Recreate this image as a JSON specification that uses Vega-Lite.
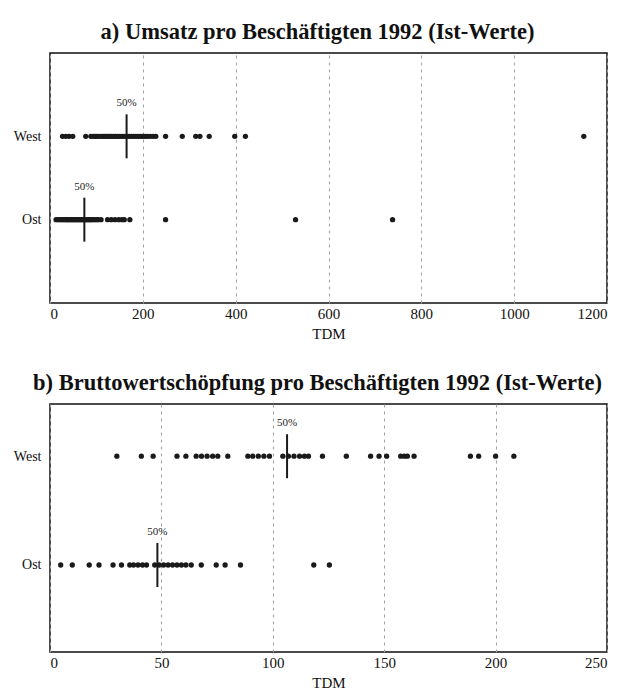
{
  "$schema": "https://vega.github.io/schema/vega-lite/v6.json",
  "background": "white",
  "padding": {"left": 5, "top": 19, "right": 20, "bottom": 5},
  "config": {
    "font": "Liberation Serif",
    "view": {"stroke": "#111", "strokeWidth": 1.5},
    "axis": {"labelFont": "Liberation Serif", "titleFont": "Liberation Serif", "labelColor": "#111", "titleColor": "#111", "ticks": false, "domain": false},
    "title": {"font": "Liberation Serif", "fontSize": 22.5, "fontWeight": "bold", "color": "#111", "anchor": "middle"}
  },
  "datasets": {
    "a": [
      {"group": "West", "value": 27}, {"group": "West", "value": 34}, {"group": "West", "value": 41}, {"group": "West", "value": 49},
      {"group": "West", "value": 77}, {"group": "West", "value": 88}, {"group": "West", "value": 93}, {"group": "West", "value": 97},
      {"group": "West", "value": 101}, {"group": "West", "value": 105}, {"group": "West", "value": 110}, {"group": "West", "value": 114},
      {"group": "West", "value": 118}, {"group": "West", "value": 121}, {"group": "West", "value": 125}, {"group": "West", "value": 129},
      {"group": "West", "value": 133}, {"group": "West", "value": 137}, {"group": "West", "value": 141}, {"group": "West", "value": 145},
      {"group": "West", "value": 150}, {"group": "West", "value": 155}, {"group": "West", "value": 160}, {"group": "West", "value": 165},
      {"group": "West", "value": 170}, {"group": "West", "value": 175}, {"group": "West", "value": 180}, {"group": "West", "value": 185},
      {"group": "West", "value": 190}, {"group": "West", "value": 195}, {"group": "West", "value": 200}, {"group": "West", "value": 205},
      {"group": "West", "value": 210}, {"group": "West", "value": 216}, {"group": "West", "value": 222}, {"group": "West", "value": 228},
      {"group": "West", "value": 249}, {"group": "West", "value": 285}, {"group": "West", "value": 314}, {"group": "West", "value": 323},
      {"group": "West", "value": 343}, {"group": "West", "value": 398}, {"group": "West", "value": 421}, {"group": "West", "value": 1150},
      {"group": "Ost", "value": 13}, {"group": "Ost", "value": 17}, {"group": "Ost", "value": 21}, {"group": "Ost", "value": 25},
      {"group": "Ost", "value": 28}, {"group": "Ost", "value": 32}, {"group": "Ost", "value": 35}, {"group": "Ost", "value": 38},
      {"group": "Ost", "value": 41}, {"group": "Ost", "value": 44}, {"group": "Ost", "value": 47}, {"group": "Ost", "value": 50},
      {"group": "Ost", "value": 53}, {"group": "Ost", "value": 56}, {"group": "Ost", "value": 59}, {"group": "Ost", "value": 62},
      {"group": "Ost", "value": 65}, {"group": "Ost", "value": 68}, {"group": "Ost", "value": 71}, {"group": "Ost", "value": 74},
      {"group": "Ost", "value": 77}, {"group": "Ost", "value": 80}, {"group": "Ost", "value": 83}, {"group": "Ost", "value": 86},
      {"group": "Ost", "value": 89}, {"group": "Ost", "value": 92}, {"group": "Ost", "value": 96}, {"group": "Ost", "value": 100},
      {"group": "Ost", "value": 104}, {"group": "Ost", "value": 110}, {"group": "Ost", "value": 124}, {"group": "Ost", "value": 132},
      {"group": "Ost", "value": 140}, {"group": "Ost", "value": 148}, {"group": "Ost", "value": 155}, {"group": "Ost", "value": 160},
      {"group": "Ost", "value": 172}, {"group": "Ost", "value": 249}, {"group": "Ost", "value": 529}, {"group": "Ost", "value": 738}
    ],
    "medA": [
      {"group": "West", "median": 165, "label": "50%"},
      {"group": "Ost", "median": 74, "label": "50%"}
    ],
    "b": [
      {"group": "West", "value": 30}, {"group": "West", "value": 41}, {"group": "West", "value": 46.3}, {"group": "West", "value": 57},
      {"group": "West", "value": 61}, {"group": "West", "value": 65.6}, {"group": "West", "value": 68}, {"group": "West", "value": 70.5},
      {"group": "West", "value": 73}, {"group": "West", "value": 75.3}, {"group": "West", "value": 79.8}, {"group": "West", "value": 88.8},
      {"group": "West", "value": 91}, {"group": "West", "value": 93.5}, {"group": "West", "value": 96}, {"group": "West", "value": 98.5},
      {"group": "West", "value": 104.5}, {"group": "West", "value": 107}, {"group": "West", "value": 109.5}, {"group": "West", "value": 112},
      {"group": "West", "value": 114.2}, {"group": "West", "value": 116}, {"group": "West", "value": 122.3}, {"group": "West", "value": 133},
      {"group": "West", "value": 143.9}, {"group": "West", "value": 147.7}, {"group": "West", "value": 151.1}, {"group": "West", "value": 157.4},
      {"group": "West", "value": 159}, {"group": "West", "value": 160.4}, {"group": "West", "value": 163.4}, {"group": "West", "value": 188.7},
      {"group": "West", "value": 192.4}, {"group": "West", "value": 200}, {"group": "West", "value": 208.2},
      {"group": "Ost", "value": 4.8}, {"group": "Ost", "value": 10}, {"group": "Ost", "value": 17.6}, {"group": "Ost", "value": 22},
      {"group": "Ost", "value": 28.3}, {"group": "Ost", "value": 32.1}, {"group": "Ost", "value": 35.8}, {"group": "Ost", "value": 37.5},
      {"group": "Ost", "value": 39.5}, {"group": "Ost", "value": 41.5}, {"group": "Ost", "value": 43.3}, {"group": "Ost", "value": 47},
      {"group": "Ost", "value": 49}, {"group": "Ost", "value": 51}, {"group": "Ost", "value": 53}, {"group": "Ost", "value": 55},
      {"group": "Ost", "value": 57}, {"group": "Ost", "value": 59}, {"group": "Ost", "value": 61}, {"group": "Ost", "value": 63.4},
      {"group": "Ost", "value": 67.9}, {"group": "Ost", "value": 74.6}, {"group": "Ost", "value": 78.6}, {"group": "Ost", "value": 85.5},
      {"group": "Ost", "value": 118.4}, {"group": "Ost", "value": 125.4}
    ],
    "medB": [
      {"group": "West", "median": 106.4, "label": "50%"},
      {"group": "Ost", "median": 48.2, "label": "50%"}
    ]
  },
  "spacing": 28,
  "vconcat": [
    {
      "width": 557,
      "height": 250,
      "title": {"text": "a) Umsatz pro Beschäftigten 1992 (Ist-Werte)", "offset": 10, "dx": -11},
      "layer": [
        {
          "data": {"name": "a"},
          "mark": {"type": "point", "filled": true, "size": 28, "color": "#1a1a1a", "opacity": 1},
          "encoding": {
            "x": {"field": "value", "type": "quantitative", "scale": {"domain": [0, 1200], "nice": false},
              "axis": {"values": [0, 200, 400, 600, 800, 1000, 1200], "format": "d", "grid": true, "gridDash": [3, 4], "gridColor": "#a0a0a0", "labelFontSize": 15, "labelPadding": 3, "title": "TDM", "titleFontSize": 15, "titleFontWeight": "normal", "titlePadding": 5}},
            "y": {"field": "group", "type": "nominal", "scale": {"type": "point", "domain": ["West", "Ost"], "padding": 1},
              "axis": {"title": null, "labelFontSize": 14, "labelPadding": 9, "minExtent": 44, "maxExtent": 44}}
          }
        },
        {
          "data": {"name": "medA"},
          "mark": {"type": "tick", "orient": "vertical", "size": 44, "thickness": 2, "color": "#1a1a1a", "opacity": 1},
          "encoding": {
            "x": {"field": "median", "type": "quantitative"},
            "y": {"field": "group", "type": "nominal"}
          }
        },
        {
          "data": {"name": "medA"},
          "mark": {"type": "text", "dy": -33, "fontSize": 11, "font": "Liberation Serif", "color": "#222"},
          "encoding": {
            "x": {"field": "median", "type": "quantitative"},
            "y": {"field": "group", "type": "nominal"},
            "text": {"field": "label"}
          }
        }
      ]
    },
    {
      "width": 557,
      "height": 248,
      "title": {"text": "b) Bruttowertschöpfung pro Beschäftigten 1992 (Ist-Werte)", "offset": 10, "dx": -11},
      "layer": [
        {
          "data": {"name": "b"},
          "mark": {"type": "point", "filled": true, "size": 28, "color": "#1a1a1a", "opacity": 1},
          "encoding": {
            "x": {"field": "value", "type": "quantitative", "scale": {"domain": [0, 250], "nice": false},
              "axis": {"values": [0, 50, 100, 150, 200, 250], "format": "d", "grid": true, "gridDash": [3, 4], "gridColor": "#a0a0a0", "labelFontSize": 15, "labelPadding": 3, "title": "TDM", "titleFontSize": 15, "titleFontWeight": "normal", "titlePadding": 5}},
            "y": {"field": "group", "type": "nominal", "scale": {"type": "point", "domain": ["West", "Ost"], "padding": 0.64, "align": 0.375},
              "axis": {"title": null, "labelFontSize": 14, "labelPadding": 9, "minExtent": 44, "maxExtent": 44}}
          }
        },
        {
          "data": {"name": "medB"},
          "mark": {"type": "tick", "orient": "vertical", "size": 44, "thickness": 2, "color": "#1a1a1a", "opacity": 1},
          "encoding": {
            "x": {"field": "median", "type": "quantitative"},
            "y": {"field": "group", "type": "nominal"}
          }
        },
        {
          "data": {"name": "medB"},
          "mark": {"type": "text", "dy": -33, "fontSize": 11, "font": "Liberation Serif", "color": "#222"},
          "encoding": {
            "x": {"field": "median", "type": "quantitative"},
            "y": {"field": "group", "type": "nominal"},
            "text": {"field": "label"}
          }
        }
      ]
    }
  ]
}
